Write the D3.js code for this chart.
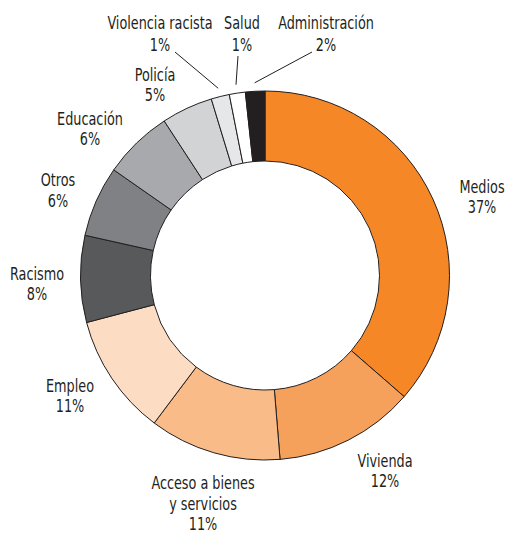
<!DOCTYPE html>
<html>
<head>
<meta charset="utf-8">
<script src="https://cdn.jsdelivr.net/npm/d3@7"></script>
<style>
  html, body { margin: 0; padding: 0; background: #fff; }
  svg { display: block; }
  text { font-family: "DejaVu Sans Condensed", "Liberation Sans Narrow", sans-serif; fill: #231f20; }
</style>
</head>
<body>
<svg id="chart" width="507" height="534"></svg>
<script>
// ---- data ----
const categories = ["Medios", "Vivienda", "Acceso a bienes y servicios", "Empleo", "Racismo", "Otros", "Educación", "Policía", "Violencia racista", "Salud", "Administración"];
const values = [36.4, 12.3, 11.55, 10.65, 7.6, 6.2, 6.1, 4.5, 1.6, 1.4, 1.7];
const pctLabels = ["37%", "12%", "11%", "11%", "8%", "6%", "6%", "5%", "1%", "1%", "2%"];
const labelLines = [["Medios"], ["Vivienda"], ["Acceso a bienes", "y servicios"], ["Empleo"], ["Racismo"], ["Otros"], ["Educación"], ["Policía"], ["Violencia racista"], ["Salud"], ["Administración"]];
const colors = ["#f58726", "#f6a15b", "#f9bc89", "#fcdcc2", "#58595b", "#808184", "#a7a9ac", "#d1d3d4", "#e6e7e8", "#ffffff", "#231f20"];

// ---- layout ----
const cx = 265, cy = 275.5, rOuter = 184.5, rInner = 114.5;
const labelPos = [
  {x: 482, y: 193},
  {x: 385, y: 467},
  {x: 203, y: 489.5},
  {x: 70, y: 392},
  {x: 37, y: 280},
  {x: 58, y: 186.5},
  {x: 90, y: 125},
  {x: 155, y: 81},
  {x: 160, y: 29, lead: [175, 52]},
  {x: 242, y: 29, lead: [238, 56]},
  {x: 326, y: 29, lead: [312, 52]}
];
const lineH = 20.5;
const fontSize = 18.5, squeeze = 0.77;

const svg = d3.select("#chart");
const g = svg.append("g").attr("transform", `translate(${cx},${cy})`);

const data = categories.map((c, i) => ({name: c, value: values[i], i}));
const pie = d3.pie().value(d => d.value).sort(null);
const arcs = pie(data);
const arc = d3.arc().innerRadius(rInner).outerRadius(rOuter);

g.selectAll("path.slice")
  .data(arcs)
  .join("path")
  .attr("class", "slice")
  .attr("d", arc)
  .attr("fill", d => colors[d.data.i])
  .attr("stroke", "#231f20")
  .attr("stroke-width", 1);

// leader lines
const leadArc = d3.arc().innerRadius(193).outerRadius(193);
arcs.forEach(a => {
  const lp = labelPos[a.data.i];
  if (!lp.lead) return;
  const [ex, ey] = leadArc.centroid(a);
  svg.append("line")
    .attr("x1", lp.lead[0]).attr("y1", lp.lead[1])
    .attr("x2", cx + ex).attr("y2", cy + ey)
    .attr("stroke", "#231f20").attr("stroke-width", 1);
});

// labels
data.forEach(d => {
  const lp = labelPos[d.i];
  const t = svg.append("text")
    .attr("transform", `translate(${lp.x},0) scale(${squeeze},1)`)
    .attr("text-anchor", "middle")
    .attr("font-size", fontSize);
  const lines = labelLines[d.i].concat([pctLabels[d.i]]);
  lines.forEach((s, k) => {
    t.append("tspan").attr("x", 0).attr("y", lp.y + k * (d.i >= 8 ? 22 : lineH)).text(s);
  });
});
</script>
</body>
</html>
